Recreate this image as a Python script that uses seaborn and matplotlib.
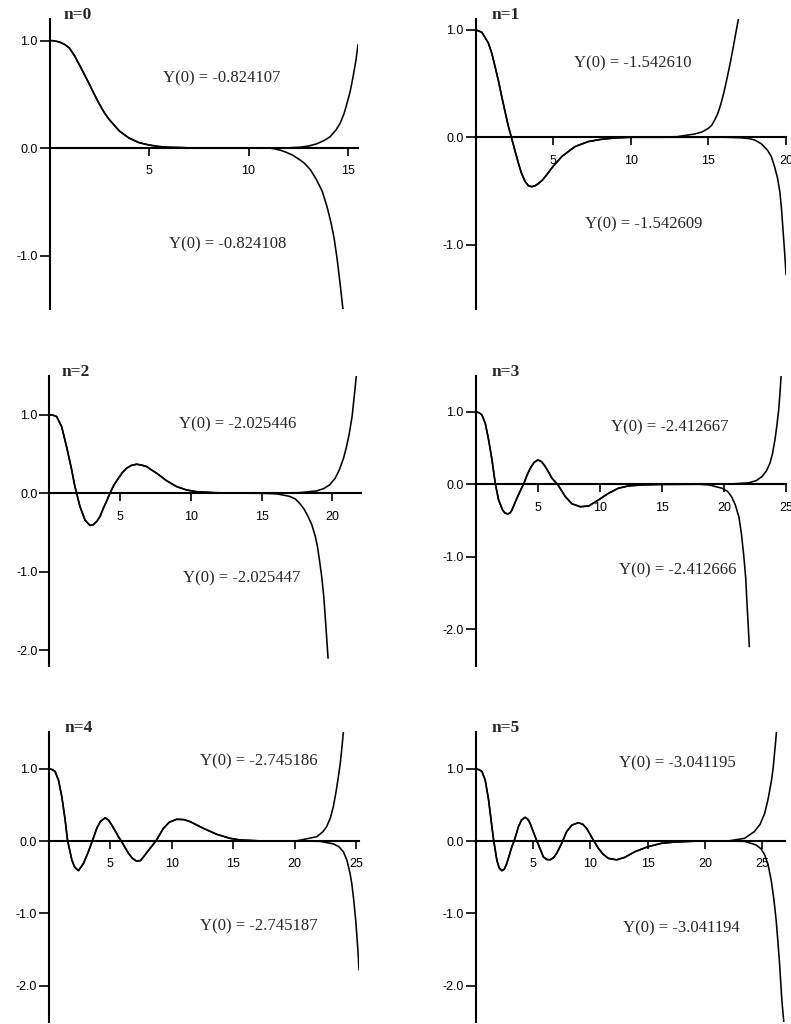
import matplotlib
matplotlib.use("Agg")
import matplotlib.pyplot as plt
import seaborn as sns

# ---------------- data ----------------
# n = 0
n0_x = [0, 0.25, 0.5, 0.75, 1.0, 1.25, 1.5, 1.75, 2.0, 2.25, 2.5, 2.75, 3.0, 3.5, 4.0, 4.5, 5.0, 5.5, 6.0, 7.0, 8.0, 10.0, 11.0]
n0_y = [1.0, 0.997, 0.986, 0.965, 0.93, 0.86, 0.775, 0.685, 0.595, 0.50, 0.41, 0.33, 0.265, 0.16, 0.092, 0.05, 0.028, 0.014, 0.007, 0.002, 0.0005, 0.0, 0.0]
n0_up_x = [11.0, 12.0, 12.6, 13.0, 13.4, 13.8, 14.1, 14.4, 14.6, 14.8, 14.9, 15.1, 15.25, 15.4, 15.5]
n0_up_y = [0.0, 0.002, 0.008, 0.018, 0.037, 0.07, 0.105, 0.17, 0.23, 0.32, 0.385, 0.52, 0.66, 0.82, 0.96]
n0_lo_x = [11.0, 11.3, 11.6, 11.9, 12.2, 12.5, 12.8, 13.1, 13.4, 13.7, 13.95, 14.15, 14.3, 14.45, 14.6, 14.75]
n0_lo_y = [0.0, -0.007, -0.02, -0.04, -0.065, -0.10, -0.14, -0.20, -0.29, -0.40, -0.55, -0.70, -0.84, -1.03, -1.26, -1.51]

# n = 1
n1_x = [0, 0.41, 0.83, 1.05, 1.26, 1.5, 1.69, 1.9, 2.12, 2.33, 2.55, 2.76, 2.95, 3.19, 3.4, 3.62, 3.85, 4.05, 4.3, 4.58, 5.0, 5.55, 6.4, 7.26, 8.1, 9.0, 10.0, 12.0]
n1_y = [1.0, 0.977, 0.876, 0.78, 0.657, 0.51, 0.378, 0.24, 0.10, -0.01, -0.13, -0.24, -0.33, -0.41, -0.45, -0.46, -0.45, -0.43, -0.40, -0.35, -0.27, -0.18, -0.087, -0.04, -0.019, -0.006, 0.0, 0.0]
n1_up_x = [12.0, 13.0, 14.1, 14.6, 15.0, 15.2, 15.4, 15.6, 15.8, 16.0, 16.2, 16.4, 16.6, 16.8, 16.93]
n1_up_y = [0.0, 0.006, 0.03, 0.05, 0.084, 0.11, 0.16, 0.22, 0.31, 0.42, 0.55, 0.69, 0.84, 1.0, 1.1]
n1_lo_x = [12.0, 16.0, 17.1, 17.6, 17.97, 18.4, 18.8, 19.05, 19.25, 19.45, 19.6, 19.7, 19.8, 19.9, 20.0]
n1_lo_y = [0.0, 0.0, -0.005, -0.012, -0.025, -0.06, -0.12, -0.18, -0.27, -0.38, -0.51, -0.66, -0.86, -1.06, -1.28]

# n = 2
n2_x = [0, 0.25, 0.52, 0.87, 1.22, 1.58, 1.81, 1.93, 2.17, 2.52, 2.87, 3.1, 3.35, 3.6, 3.82, 4.05, 4.29, 4.55, 4.88, 5.17, 5.47, 5.8, 6.17, 6.5, 6.88, 7.2, 7.59, 8.29, 9.0, 9.7, 10.4, 11.6, 13.0, 15.0]
n2_y = [1.0, 0.995, 0.977, 0.85, 0.594, 0.30, 0.085, 0.0, -0.17, -0.34, -0.41, -0.40, -0.36, -0.29, -0.19, -0.10, 0.0, 0.10, 0.19, 0.265, 0.32, 0.355, 0.37, 0.36, 0.34, 0.30, 0.255, 0.16, 0.085, 0.042, 0.02, 0.008, 0.002, 0.0]
n2_up_x = [15.0, 17.7, 18.9, 19.4, 19.8, 20.2, 20.5, 20.8, 21.0, 21.2, 21.4, 21.6, 21.7]
n2_up_y = [0.0, 0.008, 0.03, 0.06, 0.106, 0.19, 0.30, 0.45, 0.59, 0.76, 0.98, 1.32, 1.5]
n2_lo_x = [15.0, 16.1, 17.0, 17.4, 17.7, 18.0, 18.3, 18.55, 18.8, 18.95, 19.1, 19.25, 19.4, 19.55, 19.7]
n2_lo_y = [0.0, -0.008, -0.04, -0.075, -0.13, -0.20, -0.30, -0.40, -0.55, -0.68, -0.86, -1.06, -1.32, -1.70, -2.1]

# n = 3
n3_x = [0, 0.3, 0.51, 0.78, 1.05, 1.32, 1.58, 1.85, 2.17, 2.35, 2.58, 2.78, 2.93, 3.33, 3.6, 3.87, 4.13, 4.4, 4.7, 5.02, 5.32, 5.61, 5.9, 6.15, 6.63, 7.22, 7.76, 8.43, 9.1, 9.9, 10.7, 11.5, 12.3, 13.4, 15.0, 18.0]
n3_y = [1.0, 0.985, 0.956, 0.84, 0.61, 0.336, 0.014, -0.216, -0.354, -0.395, -0.41, -0.395, -0.354, -0.19, -0.09, 0.005, 0.12, 0.22, 0.30, 0.336, 0.31, 0.244, 0.16, 0.083, -0.009, -0.17, -0.27, -0.31, -0.30, -0.216, -0.124, -0.055, -0.023, -0.009, -0.002, 0.0]
n3_up_x = [18.0, 20.4, 22.0, 22.6, 23.06, 23.4, 23.7, 23.9, 24.1, 24.25, 24.4, 24.5, 24.6]
n3_up_y = [0.0, 0.002, 0.02, 0.05, 0.106, 0.18, 0.29, 0.42, 0.61, 0.80, 1.02, 1.24, 1.5]
n3_lo_x = [18.0, 18.8, 19.84, 20.3, 20.6, 20.9, 21.2, 21.4, 21.6, 21.75, 21.85, 21.95, 22.04]
n3_lo_y = [0.0, -0.01, -0.055, -0.10, -0.17, -0.28, -0.45, -0.68, -1.0, -1.3, -1.64, -1.95, -2.24]

# n = 4
n4_x = [0, 0.3, 0.51, 0.79, 1.06, 1.33, 1.52, 1.87, 2.1, 2.41, 2.82, 3.22, 3.55, 3.9, 4.2, 4.58, 4.85, 5.12, 5.4, 5.66, 5.93, 6.2, 6.48, 6.8, 7.15, 7.45, 7.7, 8.24, 8.73, 9.32, 9.8, 10.4, 11.0, 11.5, 12.57, 13.66, 14.74, 15.56, 17.0, 20.0]
n4_y = [1.0, 0.985, 0.96, 0.84, 0.61, 0.29, 0.014, -0.26, -0.36, -0.41, -0.31, -0.147, 0.005, 0.175, 0.27, 0.32, 0.29, 0.22, 0.14, 0.06, -0.01, -0.09, -0.17, -0.24, -0.28, -0.27, -0.22, -0.10, 0.005, 0.175, 0.26, 0.30, 0.295, 0.267, 0.175, 0.092, 0.037, 0.014, 0.003, 0.0]
n4_up_x = [20.0, 20.4, 21.8, 22.3, 22.6, 22.9, 23.14, 23.35, 23.55, 23.7, 23.8, 23.96]
n4_up_y = [0.0, 0.01, 0.06, 0.13, 0.20, 0.32, 0.475, 0.67, 0.89, 1.07, 1.23, 1.51]
n4_lo_x = [20.0, 22.06, 23.14, 23.6, 23.96, 24.25, 24.5, 24.65, 24.8, 24.95, 25.04, 25.15, 25.23]
n4_lo_y = [0.0, -0.005, -0.04, -0.08, -0.15, -0.27, -0.45, -0.6, -0.82, -1.08, -1.28, -1.55, -1.78]

# n = 5
n5_x = [0, 0.3, 0.55, 0.84, 1.13, 1.42, 1.57, 1.86, 2.05, 2.29, 2.5, 2.72, 3.16, 3.39, 3.74, 4.0, 4.32, 4.55, 4.75, 5.19, 5.42, 5.91, 6.2, 6.49, 6.8, 7.07, 7.51, 7.94, 8.4, 8.96, 9.35, 9.68, 10.26, 10.7, 11.1, 11.57, 12.3, 13.0, 13.9, 15.04, 16.2, 17.36, 19.0, 22.0]
n5_y = [1.0, 0.985, 0.96, 0.84, 0.57, 0.20, 0.014, -0.27, -0.37, -0.41, -0.39, -0.31, -0.08, 0.014, 0.20, 0.29, 0.327, 0.30, 0.244, 0.06, -0.03, -0.22, -0.255, -0.26, -0.23, -0.17, -0.03, 0.13, 0.22, 0.253, 0.23, 0.175, 0.014, -0.10, -0.18, -0.24, -0.26, -0.226, -0.147, -0.078, -0.032, -0.014, -0.003, 0.0]
n5_up_x = [22.0, 23.45, 24.3, 24.8, 25.2, 25.5, 25.8, 25.95, 26.06, 26.15, 26.23]
n5_up_y = [0.0, 0.037, 0.13, 0.23, 0.38, 0.58, 0.84, 1.02, 1.21, 1.36, 1.51]
n5_lo_x = [22.0, 23.45, 24.46, 24.9, 25.2, 25.5, 25.77, 26.0, 26.2, 26.35, 26.5, 26.6, 26.7, 26.87]
n5_lo_y = [0.0, -0.005, -0.055, -0.11, -0.19, -0.33, -0.54, -0.8, -1.09, -1.38, -1.69, -1.95, -2.2, -2.5]

titles = ["n=0", "n=1", "n=2", "n=3", "n=4", "n=5"]
upper_labels = ["Y(0) = -0.824107", "Y(0) = -1.542610", "Y(0) = -2.025446",
                "Y(0) = -2.412667", "Y(0) = -2.745186", "Y(0) = -3.041195"]
lower_labels = ["Y(0) = -0.824108", "Y(0) = -1.542609", "Y(0) = -2.025447",
                "Y(0) = -2.412666", "Y(0) = -2.745187", "Y(0) = -3.041194"]
x_ticks = [[5, 10, 15], [5, 10, 15, 20], [5, 10, 15, 20],
           [5, 10, 15, 20, 25], [5, 10, 15, 20, 25], [5, 10, 15, 20, 25]]
y_ticks = [[-1.0, 0.0, 1.0], [-1.0, 0.0, 1.0], [-2.0, -1.0, 0.0, 1.0],
           [-2.0, -1.0, 0.0, 1.0], [-2.0, -1.0, 0.0, 1.0], [-2.0, -1.0, 0.0, 1.0]]

common = [(n0_x, n0_y), (n1_x, n1_y), (n2_x, n2_y), (n3_x, n3_y), (n4_x, n4_y), (n5_x, n5_y)]
uppers = [(n0_up_x, n0_up_y), (n1_up_x, n1_up_y), (n2_up_x, n2_up_y),
          (n3_up_x, n3_up_y), (n4_up_x, n4_up_y), (n5_up_x, n5_up_y)]
lowers = [(n0_lo_x, n0_lo_y), (n1_lo_x, n1_lo_y), (n2_lo_x, n2_lo_y),
          (n3_lo_x, n3_lo_y), (n4_lo_x, n4_lo_y), (n5_lo_x, n5_lo_y)]

# ---------------- layout (pixels in a 791 x 1024 canvas) ----------------
W, H = 791.0, 1024.0
layout = [  # left, top, width, bottom (px), xmax, ymin, ymax
    (49.5, 19.0, 308.5, 309.3, 15.5, -1.5, 1.2),
    (475.5, 19.0, 310.6, 309.3, 20.0, -1.6, 1.1),
    (49.3, 375.5, 311.3, 666.0, 22.0, -2.2, 1.5),
    (475.6, 375.5, 310.5, 665.5, 25.0, -2.5, 1.5),
    (48.8, 732.4, 310.5, 1022.0, 25.25, -2.5, 1.5),
    (475.6, 732.4, 309.7, 1022.0, 27.0, -2.5, 1.5),
]
title_dx = [0.044, 0.052, 0.040, 0.052, 0.050, 0.050]
upper_pos = [(8.65, 0.646), (10.15, 0.688), (13.3, 0.879), (15.65, 0.783), (17.06, 1.095), (17.58, 1.066)]
lower_pos = [(8.93, -0.893), (10.83, -0.806), (13.6, -1.09), (16.27, -1.19), (17.06, -1.18), (17.9, -1.21)]

sns.set_style("ticks")
plt.rcParams["font.family"] = ["Liberation Sans", "DejaVu Sans"]
plt.rcParams["axes.unicode_minus"] = False

fig = plt.figure(figsize=(W / 100, H / 100), dpi=100)
fig.patch.set_facecolor("white")

for i in range(6):
    left, top, width, bottom, xmax, ymin, ymax = layout[i]
    ax = fig.add_axes([left / W, 1 - bottom / H, width / W, (bottom - top) / H])
    ax.patch.set_alpha(0)

    cx, cy = common[i]
    ux, uy = uppers[i]
    lx, ly = lowers[i]
    sns.lineplot(x=cx + ux[1:], y=cy + uy[1:], ax=ax, color="black",
                 linewidth=1.15, estimator=None, sort=False)
    sns.lineplot(x=cx + lx[1:], y=cy + ly[1:], ax=ax, color="black",
                 linewidth=1.15, estimator=None, sort=False)

    ax.set_xlim(0, xmax)
    ax.set_ylim(ymin, ymax)
    for s in ["top", "right"]:
        ax.spines[s].set_visible(False)
    ax.spines["bottom"].set_position(("data", 0))
    ax.spines["left"].set_position(("data", 0))
    for s in ["bottom", "left"]:
        ax.spines[s].set_linewidth(1.5)
        ax.spines[s].set_color("black")

    ax.set_xticks(x_ticks[i])
    ax.set_xticklabels([str(v) for v in x_ticks[i]])
    ax.set_yticks(y_ticks[i])
    ax.set_yticklabels([f"{v:.1f}" for v in y_ticks[i]])
    ax.tick_params(axis="x", bottom=True, direction="out", length=5.5, width=1.2,
                   pad=7, labelsize=9, color="black", labelcolor="black")
    ax.tick_params(axis="y", left=True, direction="out", length=7, width=1.2,
                   pad=1.5, labelsize=9, color="black", labelcolor="black")
    ax.set_xlabel("")
    ax.set_ylabel("")

    ax.text(title_dx[i], 1.0, titles[i], transform=ax.transAxes, va="baseline",
            ha="left", fontsize=12.5, fontweight="bold", family="Liberation Serif")
    ax.text(upper_pos[i][0], upper_pos[i][1], upper_labels[i], ha="center",
            va="center", fontsize=12, family="Liberation Serif")
    ax.text(lower_pos[i][0], lower_pos[i][1], lower_labels[i], ha="center",
            va="center", fontsize=12, family="Liberation Serif")

fig.savefig("out.png", dpi=100, facecolor="white")
